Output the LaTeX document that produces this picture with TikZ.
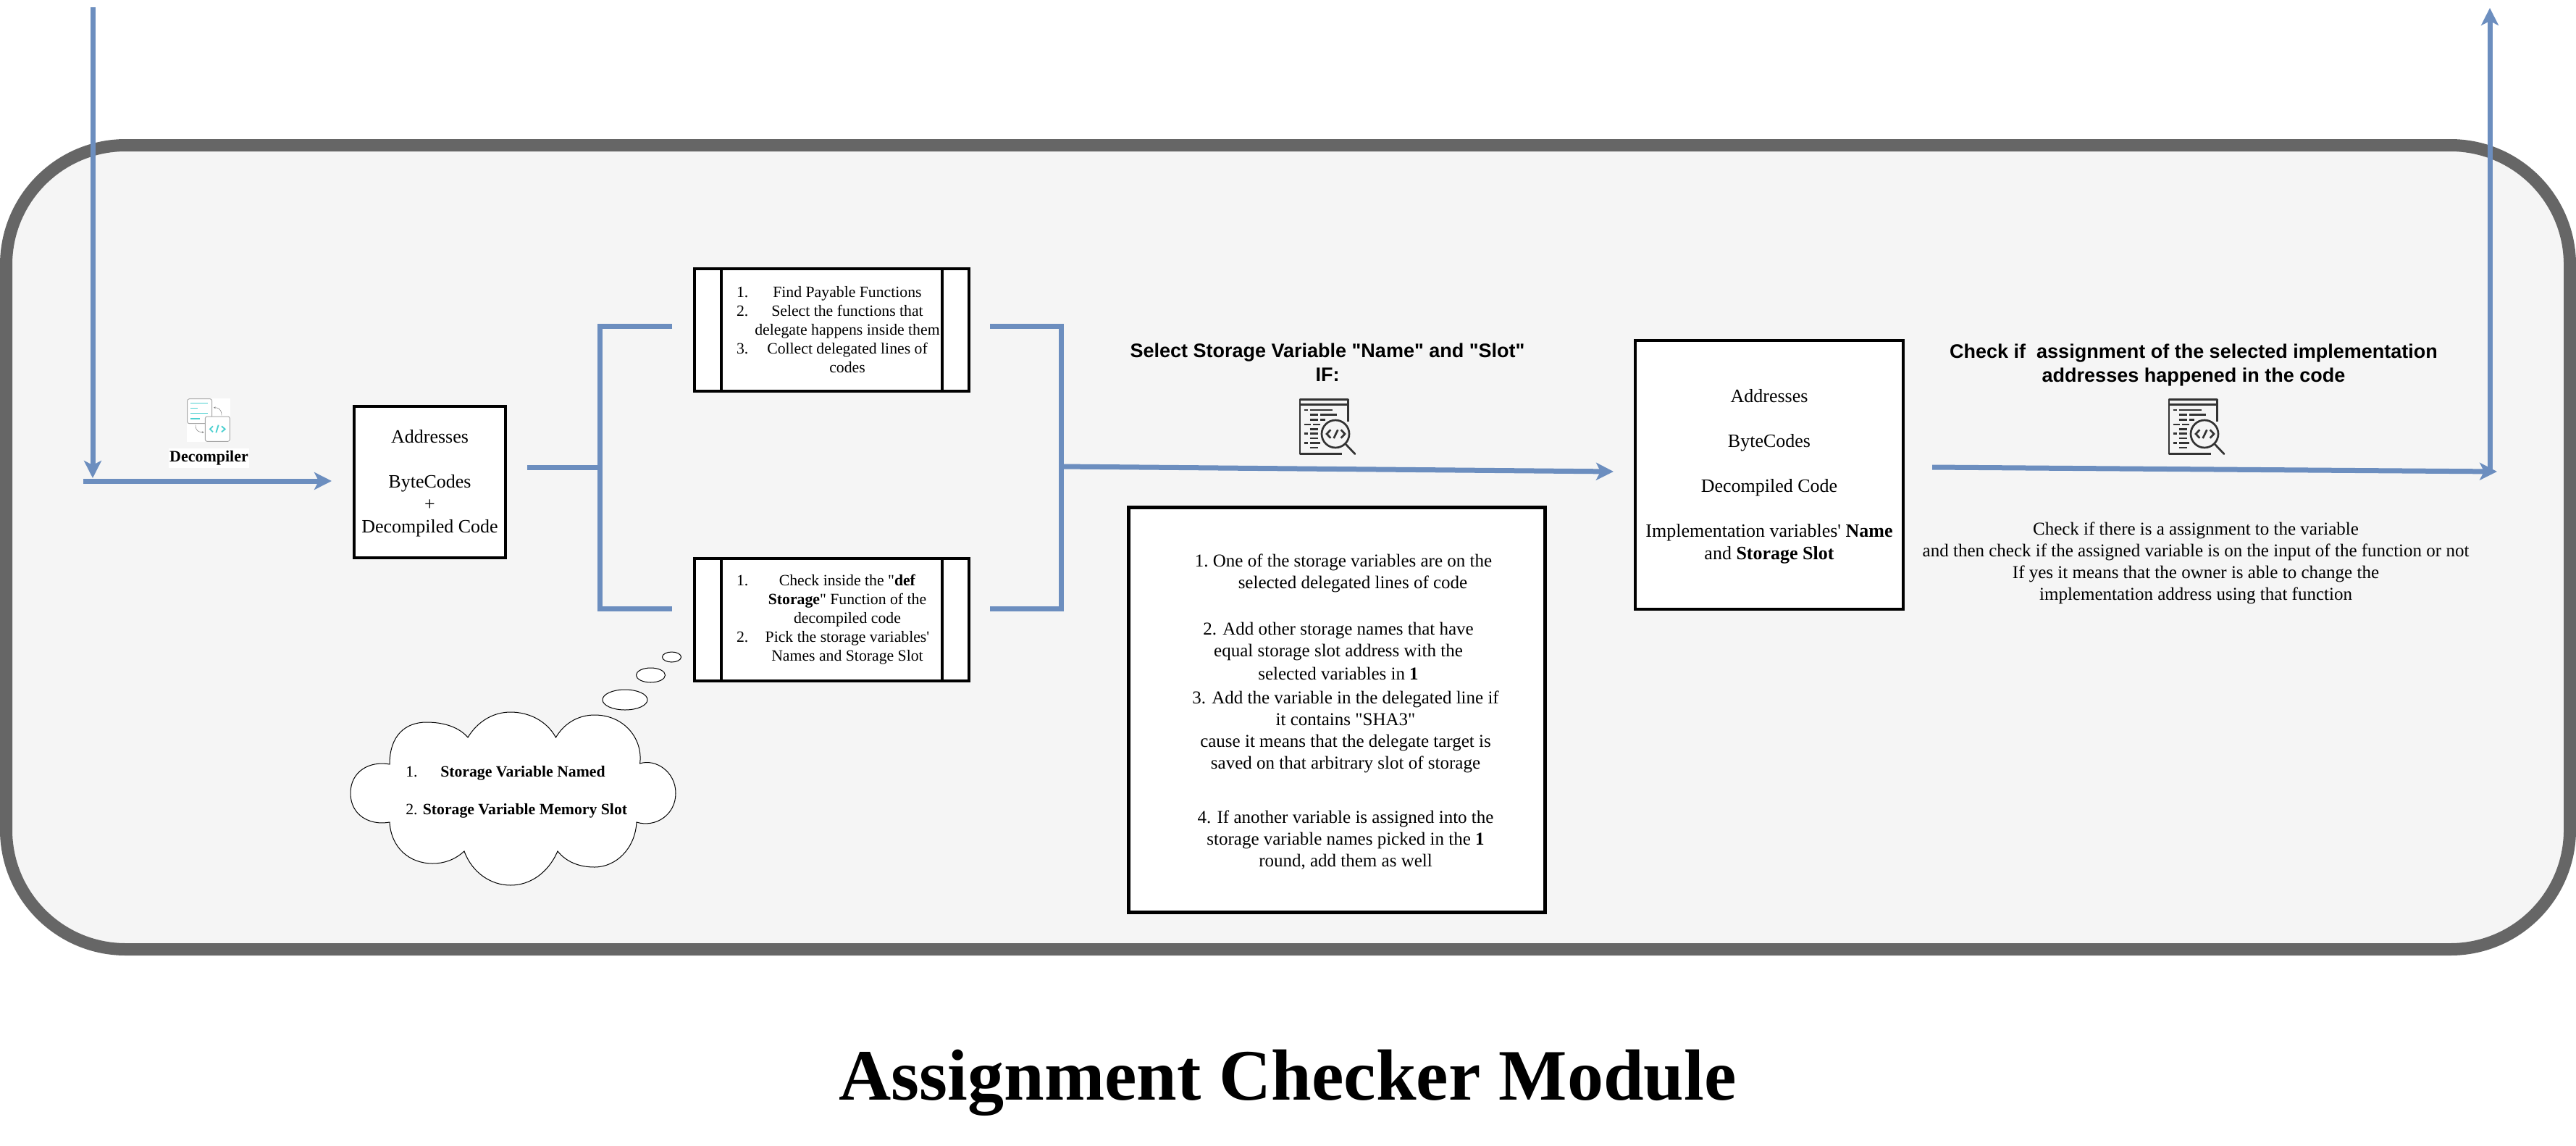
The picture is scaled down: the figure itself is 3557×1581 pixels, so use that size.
\documentclass[tikz,border=0pt]{standalone}
\usepackage{fontspec}
\setmainfont[Ligatures=TeXOff]{Liberation Serif}
\newfontfamily\hdfont{Liberation Sans}
\usetikzlibrary{arrows.meta,calc,shapes.geometric}
\definecolor{flow}{HTML}{6C8EBF}
\definecolor{framegray}{HTML}{666666}
\definecolor{framefill}{HTML}{F5F5F5}
\definecolor{iconink}{HTML}{333333}
\definecolor{teal}{HTML}{4DD0D0}
\definecolor{icongray}{HTML}{A6A6A6}
% one list line of a process box: number flush left, text centred
\newcommand\prline[2]{\hbox to 261.75pt{\hskip 32.25pt\hbox to 229.5pt{\rlap{#1}\hfil #2\hfil}\hss}}
\tikzset{
  x=0.75pt,y=-0.75pt,
  flowline/.style={draw=flow,line width=7*0.75pt},
  flowarrow/.style={flowline,-{Stealth[length=18pt,width=18pt,inset=4.5pt]}},
  whitebox/.style={draw=black,fill=white,line width=4*0.75pt,inner sep=0pt,outer sep=0pt,align=center},
  bodybig/.style={font=\fontsize{19.5}{23.25}\selectfont},
  bodymid/.style={font=\fontsize{18.75}{22.5}\selectfont},
  bodysmall/.style={font=\fontsize{16.3}{19.5}\selectfont},
  heading/.style={font=\hdfont\bfseries\fontsize{20.25}{24.5}\selectfont,align=center,inner sep=0pt},
  thought/.style={draw=black,fill=white,line width=0.75pt},
  bubble/.style={thought,ellipse,inner sep=0pt,outer sep=0pt},
  iconline/.style={draw=iconink,line width=2.7*0.75pt},
  icondash/.style={draw=iconink,line width=2.6*0.75pt},
  codeicon/.pic={
    \draw[iconline,line join=round] (305,155)--(305,65)--(105,65)--(105,290)--(280,290);
    \draw[iconline] (105,85)--(305,85);
    \foreach \ya/\xa/\xb in {108/122/137,108/146/240,128/146/180,128/190/258,148/146/180,148/190/210,168/122/150,168/160/188,187/146/180,206/122/137,206/146/180,225/146/180,244/122/137,244/146/190,264/146/180}
      \draw[icondash] (\xa,\ya)--(\xb,\ya);
    \draw[iconline,fill=framefill] (252,207) circle[radius=57];
    \draw[iconline,line cap=round] (295,250)--(333,290);
    \draw[iconline] (232,190)--(216,207)--(232,224);
    \draw[iconline] (262,190)--(245,225);
    \draw[iconline] (275,190)--(291,207)--(275,224);
  },
  decompicon/.pic={
    \fill[white] (114,90) rectangle (294,270);
    \draw[icongray,line width=0.75pt,fill=white,rounded corners=2pt] (116,92) rectangle (218,194);
    \foreach \ya/\xb in {110/200,131/158,152/200,174/168}
      \draw[teal,line width=0.9pt] (130,\ya)--(\xb,\ya);
    \draw[icongray,line width=0.75pt,fill=white,rounded corners=2pt] (190,165) rectangle (292,268);
    \draw[teal,line width=1.4pt] (222,205)--(210,217)--(222,229);
    \draw[teal,line width=1.4pt] (245,200)--(235,232);
    \draw[teal,line width=1.4pt] (258,205)--(272,217)--(258,229);
    \draw[gray,line width=0.4pt,-{Stealth[length=2pt,width=2pt]}] (258,160) .. controls (258,135) and (245,128) .. (225,128);
    \draw[gray,line width=0.4pt,-{Stealth[length=2pt,width=2pt]}] (150,200) .. controls (150,222) and (160,230) .. (185,230);
  },
}
\begin{document}
\begin{tikzpicture}
\useasboundingbox (0,0) rectangle (3557,1581);
% frame
\node[draw=framegray,fill=framefill,line width=17*0.75pt,rounded corners=165*0.75pt,inner sep=0pt,outer sep=0pt,
  minimum width=3540*0.75pt,minimum height=1110*0.75pt] (frame) at (1778.5,755.5) {};

% boxes
\node[whitebox,bodybig,minimum width=209*0.75pt,minimum height=209*0.75pt] (src) at (593.5,665.5)
  {\rule{0pt}{16.5pt}Addresses\\[23.25pt]ByteCodes\\+\\Decompiled Code};
\node[whitebox,bodysmall,minimum width=379*0.75pt,minimum height=169*0.75pt] (payable) at (1148.5,455.5)
  {\prline{1.}{Find Payable Functions}\\
   \prline{2.}{Select the functions that}\\
   \prline{}{delegate happens inside them}\\
   \prline{3.}{Collect delegated lines of}\\
   \prline{}{codes}};
\node[whitebox,bodysmall,minimum width=379*0.75pt,minimum height=169*0.75pt] (storage) at (1148.5,855.5)
  {\prline{1.}{Check inside the "\textbf{def}}\\
   \prline{}{\textbf{Storage}" Function of the}\\
   \prline{}{decompiled code}\\
   \prline{2.}{Pick the storage variables'}\\
   \prline{}{Names and Storage Slot}};
\foreach \b in {payable,storage}{
  \draw[black,line width=3.5*0.75pt] ($(\b.north west)+(37,0)$)--($(\b.south west)+(37,0)$);
  \draw[black,line width=3.5*0.75pt] ($(\b.north east)+(-37,0)$)--($(\b.south east)+(-37,0)$);
}
\node[whitebox,line width=5*0.75pt,bodymid,minimum width=575*0.75pt,minimum height=559*0.75pt] (rules) at (1846,980)
  {\hspace*{13.5pt}\rule{0pt}{17pt}1.\ One of the storage variables are on the\\
   \hspace*{33pt}selected delegated lines of code\\[25.5pt]
   \hspace*{3pt}2. Add other storage names that have\\
   \hspace*{3pt}equal storage slot address with the\\[1.5pt]
   \hspace*{3pt}selected variables in \textbf{1}\\[2.5pt]
   \hspace*{18pt}3. Add the variable in the delegated line if\\
   \hspace*{18pt}it contains "SHA3"\\
   \hspace*{18pt}cause it means that the delegate target is\\
   \hspace*{18pt}saved on that arbitrary slot of storage\\[34pt]
   \hspace*{18pt}4. If another variable is assigned into the\\
   \hspace*{18pt}storage variable names picked in the \textbf{1}\\
   \hspace*{18pt}round, add them as well};
\node[whitebox,bodybig,minimum width=370*0.75pt,minimum height=371*0.75pt] (result) at (2443,655.5)
  {\rule{0pt}{16.5pt}Addresses\\[23.25pt]ByteCodes\\[23.25pt]Decompiled Code\\[23.25pt]Implementation variables' \textbf{Name}\\and \textbf{Storage Slot}};

% connector ends
\coordinate (in1) at (128,10);
\coordinate (in1end) at (128,660);
\coordinate (in2) at (115,664);
\coordinate (in2end) at (458,664);
\coordinate (fork) at (728,645);
\coordinate (forkv) at (828,645);
\coordinate (upin) at (928,450);
\coordinate (lowin) at (928,840);
\coordinate (upout) at (1367,450);
\coordinate (lowout) at (1367,840);
\coordinate (merge) at (1465,644);
\coordinate (mergeend) at (2228,651);
\coordinate (chk) at (2668,645);
\coordinate (chkend) at (3448,651);
\coordinate (outstart) at (3438,650);
\coordinate (outend) at (3438,11);

\draw[flowarrow] (in1)--(in1end);
\draw[flowarrow] (in2)--(in2end);
\draw[flowline] (fork)--(forkv);
\draw[flowline,line join=miter] (upin)-|(forkv)|-(lowin);
\draw[flowline,line join=miter] (upout)-|(merge)|-(lowout);
\draw[flowarrow] (merge)--(mergeend);
\draw[flowarrow] (chk)--(chkend);
\draw[flowarrow] (outstart)--(outend);

% decompiler
\begin{scope}[shift={(220,520)},x=0.25pt,y=-0.25pt]
  \pic {decompicon};
\end{scope}
\node[fill=white,inner sep=0pt,minimum width=111*0.75pt,minimum height=27*0.75pt,font=\bfseries\fontsize{16.5}{20}\selectfont] (decomp) at (288.5,632.5) {Decompiler};

% headings and icons
\node[heading] (head1) at (1833,500.5) {Select Storage Variable "Name" and "Slot"\\IF:};
\begin{scope}[shift={(1760,530)},x=0.25pt,y=-0.25pt]
  \pic {codeicon};
\end{scope}
\node[heading] (head2) at (3029,504) {Check if\ \ assignment of the selected implementation\\addresses happened in the code};
\begin{scope}[shift={(2960,530)},x=0.25pt,y=-0.25pt]
  \pic {codeicon};
\end{scope}
\node[bodymid,align=center,inner sep=0pt] (note) at (3032,777)
  {Check if there is a assignment to the variable\\
   and then check if the assigned variable is on the input of the function or not\\
   If yes it means that the owner is able to change the\\
   implementation address using that function};

% thought cloud
\draw[thought] (538,1055)
  .. controls (538,1015) and (560,997) .. (589,997)
  .. controls (615,997) and (635,1005) .. (646,1018)
  .. controls (660,995) and (682,983) .. (705,983)
  .. controls (730,983) and (755,995) .. (767.5,1018)
  .. controls (780,997) and (800,987) .. (821,987)
  .. controls (862,987) and (888,1020) .. (883.6,1054)
  .. controls (905,1047) and (933,1065) .. (933,1095)
  .. controls (933,1125) and (905,1143) .. (879,1135)
  .. controls (877,1172) and (850,1197) .. (821,1197)
  .. controls (800,1197) and (782,1190) .. (770,1175)
  .. controls (757,1205) and (732,1222) .. (705,1222)
  .. controls (678,1222) and (652,1205) .. (641,1175)
  .. controls (628,1187) and (613,1192) .. (597.5,1192)
  .. controls (565,1192) and (540,1170) .. (538,1135)
  .. controls (510,1140) and (484,1125) .. (484,1095)
  .. controls (484,1065) and (510,1050) .. (538,1055) -- cycle;
\node[bubble,minimum width=62*0.75pt,minimum height=28*0.75pt] (bub1) at (863,966) {};
\node[bubble,minimum width=40*0.75pt,minimum height=20*0.75pt] (bub2) at (898.5,932) {};
\node[bubble,minimum width=26*0.75pt,minimum height=14*0.75pt] (bub3) at (927.5,907) {};
\node[anchor=west,inner sep=0pt,align=left,font=\fontsize{16.3}{19.5}\selectfont] (cloudtext) at (560,1093)
  {\hbox to 36pt{1.\hss}\textbf{Storage Variable Named}\\[19.5pt]2. \textbf{Storage Variable Memory Slot}};

\node[font=\bfseries\fontsize{75}{90}\selectfont,inner sep=0pt] (title) at (1778,1495) {Assignment Checker Module};
\end{tikzpicture}
\end{document}
